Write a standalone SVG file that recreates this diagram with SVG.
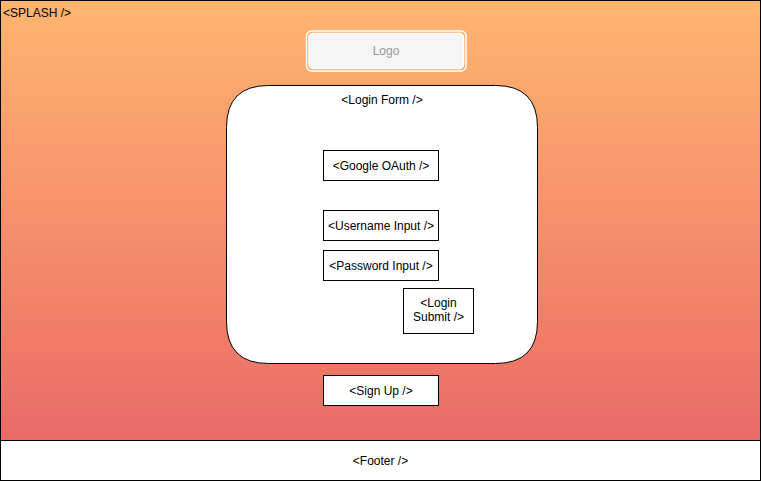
<svg xmlns="http://www.w3.org/2000/svg" width="761" height="481" viewBox="0 0 761 481">
  <defs>
    <linearGradient id="splashGrad" x1="0" y1="0" x2="0" y2="1">
      <stop offset="0" stop-color="#FFB570"/>
      <stop offset="1" stop-color="#EA6B66"/>
    </linearGradient>
  </defs>
  <style>
    text { font-family: "Liberation Sans", Arial, Helvetica, sans-serif; font-size: 12px; fill: #000000; }
    .c { text-anchor: middle; }
    .box { fill: #ffffff; stroke: #000000; stroke-width: 1; }
  </style>
  <rect x="0" y="0" width="761" height="481" fill="#ffffff"/>
  <g id="splash">
    <rect x="0.5" y="0.5" width="760" height="440" fill="url(#splashGrad)" stroke="#000000"/>
    <text x="3" y="17">&lt;SPLASH /&gt;</text>
  </g>
  <g id="footer">
    <rect x="0.5" y="440.5" width="760" height="40" fill="#ffffff" stroke="#000000"/>
    <text class="c" x="380.5" y="465">&lt;Footer /&gt;</text>
  </g>
  <g id="logo">
    <rect x="306.5" y="31" width="159.5" height="40" rx="5" ry="5" fill="none" stroke="#ffffff" stroke-width="1.5"/>
    <rect x="309" y="33.5" width="154.5" height="35" rx="4" ry="4" fill="#f5f5f5" stroke="#ffffff" stroke-width="1.5"/>
    <text class="c" x="386" y="55" style="fill:#999999">Logo</text>
  </g>
  <g id="login-form">
    <path d="M268.5 85.5 H495.5 Q537.5 85.5 537.5 127.5 V321.5 Q537.5 363.5 495.5 363.5 H268.5 Q226.5 363.5 226.5 321.5 V127.5 Q226.5 85.5 268.5 85.5 Z" fill="#ffffff" stroke="#000000"/>
    <text class="c" x="382" y="104">&lt;Login Form /&gt;</text>
  </g>
  <g id="google-oauth">
    <rect class="box" x="323.5" y="150.5" width="115" height="30"/>
    <text class="c" x="381" y="169.5">&lt;Google OAuth /&gt;</text>
  </g>
  <g id="username-input">
    <rect class="box" x="323.5" y="210.5" width="115" height="30"/>
    <text class="c" x="381" y="229.5">&lt;Username Input /&gt;</text>
  </g>
  <g id="password-input">
    <rect class="box" x="323.5" y="250.5" width="115" height="30"/>
    <text class="c" x="381" y="269.5">&lt;Password Input /&gt;</text>
  </g>
  <g id="login-submit">
    <rect class="box" x="403.5" y="288.5" width="70" height="45"/>
    <text class="c" x="438.5" y="307">&lt;Login</text>
    <text class="c" x="438.5" y="321">Submit /&gt;</text>
  </g>
  <g id="sign-up">
    <rect class="box" x="323.5" y="375.5" width="115" height="30"/>
    <text class="c" x="381" y="394.5">&lt;Sign Up /&gt;</text>
  </g>
  <g id="connectors"></g>
</svg>
